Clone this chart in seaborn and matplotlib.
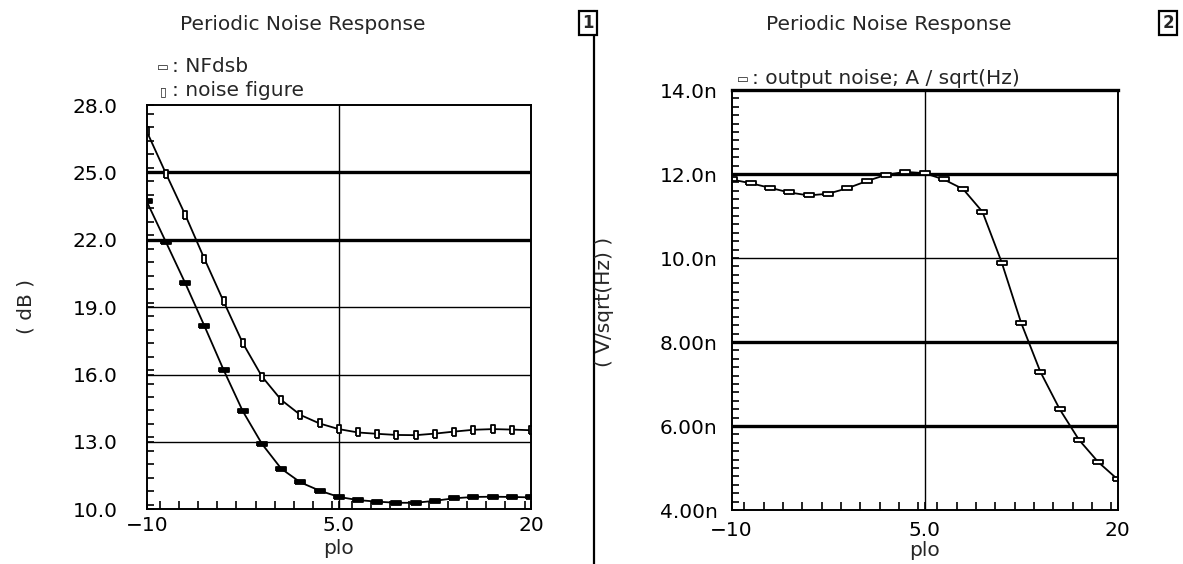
import matplotlib
matplotlib.use("Agg")
import matplotlib.pyplot as plt
from matplotlib.ticker import MultipleLocator
from matplotlib.lines import Line2D
import seaborn as sns

# sweep variable (plo) and the three traces
plo = [-10, -8.5, -7, -5.5, -4, -2.5, -1, 0.5, 2, 3.5, 5,
       6.5, 8, 9.5, 11, 12.5, 14, 15.5, 17, 18.5, 20]
nf_dsb = [23.71, 21.90, 20.08, 18.17, 16.21, 14.37, 12.91, 11.81, 11.20, 10.83, 10.55,
          10.41, 10.34, 10.29, 10.29, 10.38, 10.49, 10.55, 10.56, 10.55, 10.53]
noise_figure = [26.83, 24.95, 23.12, 21.16, 19.26, 17.40, 15.91, 14.87, 14.20, 13.82, 13.57,
                13.42, 13.36, 13.31, 13.30, 13.37, 13.46, 13.54, 13.57, 13.55, 13.52]
out_noise = [11.87, 11.78, 11.67, 11.56, 11.49, 11.53, 11.66, 11.83, 11.98, 12.05, 12.02,
             11.87, 11.64, 11.10, 9.89, 8.46, 7.29, 6.40, 5.67, 5.14, 4.73]  # nV/sqrt(Hz)

x_ticks = [-10, 5, 20]
x_labels = ["\u221210", "5.0", "20"]
db_ticks = [10, 13, 16, 19, 22, 25, 28]
db_labels = ["10.0", "13.0", "16.0", "19.0", "22.0", "25.0", "28.0"]
n_ticks = [4, 6, 8, 10, 12, 14]
n_labels = ["4.00n", "6.00n", "8.00n", "10.0n", "12.0n", "14.0n"]

sns.set_style("white")
plt.rcParams["font.family"] = ["DejaVu Sans"]
FS = 14.5

W, H = 1183, 564
fig = plt.figure(figsize=(W / 100, H / 100), dpi=100)

def box(x0, y0, x1, y1):
    return [x0 / W, 1 - y1 / H, (x1 - x0) / W, (y1 - y0) / H]

ax1 = fig.add_axes(box(146.7, 105, 531, 509.3))
ax2 = fig.add_axes(box(731.5, 90, 1117.6, 510))

hbar = [(-1, -0.38), (1, -0.38), (1, 0.38), (-1, 0.38), (-1, -0.38)]
vbar = [(-0.45, -1), (0.45, -1), (0.45, 1), (-0.45, 1), (-0.45, -1)]

sns.lineplot(x=plo, y=noise_figure, ax=ax1, color="black", lw=1.3,
             marker=vbar, markersize=6, markerfacecolor="white",
             markeredgecolor="black", markeredgewidth=1.3)
sns.lineplot(x=plo, y=nf_dsb, ax=ax1, color="black", lw=1.3,
             marker=hbar, markersize=7.5, markerfacecolor="black",
             markeredgecolor="black", markeredgewidth=1.3)
sns.lineplot(x=plo, y=out_noise, ax=ax2, color="black", lw=1.3,
             marker=hbar, markersize=7.5, markerfacecolor="white",
             markeredgecolor="black", markeredgewidth=1.3)

# grid lines (some drawn heavy, as in the original)
for y in [13, 16, 19]:
    ax1.axhline(y, color="black", lw=1.0, zorder=0)
for y in [22, 25]:
    ax1.axhline(y, color="black", lw=2.4, zorder=0)
ax2.axhline(10, color="black", lw=1.0, zorder=0)
for y in [6, 8, 12]:
    ax2.axhline(y, color="black", lw=2.4, zorder=0)
for ax in (ax1, ax2):
    ax.axvline(5, color="black", lw=1.0, zorder=0)

ax1.set_xlim(-10, 20)
ax1.set_ylim(10, 28)
ax2.set_xlim(-10, 20)
ax2.set_ylim(4, 14)

for ax, yt, yl, ymin, ypad, xpad in [(ax1, db_ticks, db_labels, 0.6, 21, 5),
                                     (ax2, n_ticks, n_labels, 0.2, 10, 8)]:
    ax.set_xticks(x_ticks)
    ax.set_xticklabels(x_labels)
    ax.set_yticks(yt)
    ax.set_yticklabels(yl)
    ax.xaxis.set_minor_locator(MultipleLocator(1.5))
    ax.yaxis.set_minor_locator(MultipleLocator(ymin))
    ax.tick_params(axis="both", which="both", direction="in", color="black",
                   width=1.2, labelsize=FS, labelcolor="black")
    ax.tick_params(axis="x", which="both", length=6, pad=xpad, bottom=True, top=False)
    ax.tick_params(axis="y", which="both", length=5, pad=ypad, left=True, right=False)
    ax.set_xlabel("")
    ax.set_ylabel("")
    for s in ax.spines.values():
        s.set_color("black")
        s.set_linewidth(1.4)
ax2.spines["top"].set_linewidth(2.4)

# x labels
fig.text(338.8 / W, 1 - 549 / H, "plo", ha="center", va="center", fontsize=FS)
fig.text(924.5 / W, 1 - 551 / H, "plo", ha="center", va="center", fontsize=FS)

# y labels
fig.text(26 / W, 1 - 307 / H, "( dB )", rotation=90, ha="center", va="center", fontsize=FS)
fig.text(605 / W, 1 - 302 / H, "( V/sqrt(Hz) )", rotation=90, ha="center", va="center",
         fontsize=FS)

# titles
fig.text(303 / W, 1 - 24 / H, "Periodic Noise Response", ha="center", va="center", fontsize=FS)
fig.text(888.5 / W, 1 - 24 / H, "Periodic Noise Response", ha="center", va="center",
         fontsize=FS)

# trace legends: small marker glyph, then the trace name
fig.text(163 / W, 1 - 67 / H, "\u25ad", ha="center", va="center", fontsize=9)
fig.text(172 / W, 1 - 66 / H, ": NFdsb", ha="left", va="center", fontsize=FS)
fig.text(163 / W, 1 - 92 / H, "\u25af", ha="center", va="center", fontsize=9)
fig.text(172 / W, 1 - 91 / H, ": noise figure", ha="left", va="center", fontsize=FS)
fig.text(743 / W, 1 - 80 / H, "\u25ad", ha="center", va="center", fontsize=9)
fig.text(752 / W, 1 - 79 / H, ": output noise; A / sqrt(Hz)", ha="left", va="center",
         fontsize=FS)

# separator between the two subwindows and window numbers
fig.add_artist(Line2D([594 / W, 594 / W], [0, 1 - 11 / H], color="black", lw=1.6))
fig.text(588 / W, 1 - 23 / H, "1", ha="center", va="center", fontsize=12, fontweight="bold",
         bbox=dict(boxstyle="square,pad=0.2", fc="white", ec="black", lw=1.6))
fig.text(1168 / W, 1 - 23 / H, "2", ha="center", va="center", fontsize=12, fontweight="bold",
         bbox=dict(boxstyle="square,pad=0.2", fc="white", ec="black", lw=1.6))

fig.savefig("out.png", dpi=100)
